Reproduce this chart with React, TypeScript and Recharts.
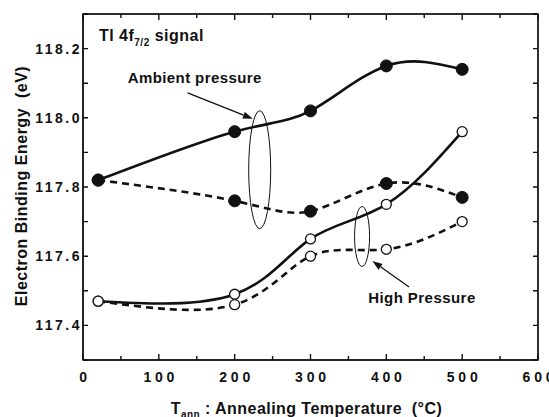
import React from "react";
import {
  LineChart,
  Line,
  XAxis,
  YAxis,
  CartesianGrid,
  ReferenceArea,
  ReferenceDot,
  ReferenceLine,
} from "recharts";

// annealing temperatures (°C)
const temps = [20, 200, 300, 400, 500];
// Tl 4f7/2 binding energies (eV)
const ambientSolid = [117.82, 117.96, 118.02, 118.15, 118.14];
const ambientDashed = [117.82, 117.76, 117.73, 117.81, 117.77];
const highSolid = [117.47, 117.49, 117.65, 117.75, 117.96];
const highDashed = [117.47, 117.46, 117.6, 117.62, 117.7];

const xTicks = [0, 50, 100, 150, 200, 250, 300, 350, 400, 450, 500, 550, 600];
const yTicks = [117.3, 117.4, 117.5, 117.6, 117.7, 117.8, 117.9, 118.0, 118.1, 118.2, 118.3];

const rows = temps.map((t, i) => ({
  t,
  ambSolid: ambientSolid[i],
  ambDash: ambientDashed[i],
  highSolid: highSolid[i],
  highDash: highDashed[i],
}));

const FONT = '"Liberation Sans", Arial, Helvetica, sans-serif';
const INK = "#111";

// layout
const W = 549;
const H = 417;
const MARGIN = { top: 14, right: 11, bottom: 0, left: 0 };
const X_AXIS_H = 57;
const Y_AXIS_W = 83;
const PLOT_W = W - MARGIN.left - MARGIN.right - Y_AXIS_W;
const PLOT_H = H - MARGIN.top - MARGIN.bottom - X_AXIS_H;
const PLOT_LEFT = MARGIN.left + Y_AXIS_W;
const PLOT_TOP = MARGIN.top;
const X_MARGIN = 17;
const Y_MARGIN = 3.5;

const isMajorX = (v: number) => v % 100 === 0;
const isMajorY = (v: number) => Math.round(v * 10) % 2 === 0;

// bottom ticks (inward) and their mirror on the top edge
const BottomTick = (props: any) => {
  const { x, y, payload } = props;
  const v = payload.value;
  const axisY = y - X_MARGIN;
  const topY = axisY - PLOT_H;
  const len = isMajorX(v) ? 6 : 4;
  return (
    <g>
      <path d={`M${x},${axisY}V${axisY - len}M${x},${topY}V${topY + len}`} stroke={INK} strokeWidth={1.4} fill="none" />
      {isMajorX(v) && (
        <text
          x={x + 2}
          y={y}
          dy="0.35em"
          textAnchor="middle"
          fontFamily={FONT}
          fontWeight="bold"
          fontSize={14}
          letterSpacing={3.8}
          fill={INK}
        >
          {v}
        </text>
      )}
    </g>
  );
};

// left ticks (inward) and their mirror on the right edge
const LeftTick = (props: any) => {
  const { x, y, payload } = props;
  const v = payload.value;
  const axisX = x + Y_MARGIN;
  const rightX = axisX + PLOT_W;
  return (
    <g>
      <path d={`M${axisX},${y}H${axisX + 5}M${rightX},${y}H${rightX - 5}`} stroke={INK} strokeWidth={1.4} fill="none" />
      {isMajorY(v) && (
        <text
          x={x + 2.5}
          y={y}
          dy="0.35em"
          textAnchor="end"
          fontFamily={FONT}
          fontWeight="bold"
          fontSize={14}
          letterSpacing={2.5}
          fill={INK}
        >
          {v.toFixed(1)}
        </text>
      )}
    </g>
  );
};

const XLabel = (props: any) => {
  const { viewBox } = props;
  const cx = viewBox.x + viewBox.width / 2 - 4;
  return (
    <text
      x={cx}
      y={414}
      textAnchor="middle"
      fontFamily={FONT}
      fontWeight="bold"
      fontSize={16}
      letterSpacing={0.45}
      fill={INK}
      style={{ whiteSpace: "pre" }}
    >
      T
      <tspan fontSize={10} dy={4}>ann</tspan>
      <tspan dy={-4}>{" : Annealing Temperature  (°C)"}</tspan>
    </text>
  );
};

const YLabel = (props: any) => {
  const { viewBox } = props;
  const cy = viewBox.y + viewBox.height / 2 - 1;
  return (
    <text
      x={27}
      y={cy}
      transform={`rotate(-90, 27, ${cy})`}
      textAnchor="middle"
      fontFamily={FONT}
      fontWeight="bold"
      fontSize={16}
      letterSpacing={0.5}
      fill={INK}
      style={{ whiteSpace: "pre" }}
    >
      {"Electron Binding Energy  (eV)"}
    </text>
  );
};

const Ellipse = (rx: number, ry: number) => (props: any) =>
  <ellipse cx={props.cx} cy={props.cy} rx={rx} ry={ry} fill="none" stroke={INK} strokeWidth={1} />;

const Arrow = (props: any) => {
  const { x1, y1, x2, y2 } = props;
  const ang = Math.atan2(y2 - y1, x2 - x1);
  const L = 10;
  const HW = 3.5;
  const bx = x2 - L * Math.cos(ang);
  const by = y2 - L * Math.sin(ang);
  const px = -Math.sin(ang) * HW;
  const py = Math.cos(ang) * HW;
  return (
    <g>
      <line x1={x1} y1={y1} x2={bx} y2={by} stroke={INK} strokeWidth={1.3} />
      <polygon points={`${x2},${y2} ${bx + px},${by + py} ${bx - px},${by - py}`} fill={INK} />
    </g>
  );
};

const Note = (text: React.ReactNode, size = 15, spacing = 0.4) => (props: any) =>
  (
    <text
      x={props.cx}
      y={props.cy}
      dy="0.35em"
      fontFamily={FONT}
      fontWeight="bold"
      fontSize={size}
      letterSpacing={spacing}
      fill={INK}
    >
      {text}
    </text>
  );

const frame = { stroke: "#222", strokeWidth: 1.5 };

const App = () => {
  return (
    <div style={{ position: "absolute", left: 0, top: 0, background: "#fff" }}>
      <LineChart width={W} height={H} data={rows} margin={MARGIN}>
        {/* plot frame: only the four edges */}
        <CartesianGrid
          stroke="#222"
          strokeWidth={1.5}
          horizontalPoints={[PLOT_TOP, PLOT_TOP + PLOT_H]}
          verticalPoints={[PLOT_LEFT, PLOT_LEFT + PLOT_W]}
        />
        <XAxis
          dataKey="t"
          type="number"
          domain={[0, 600]}
          ticks={xTicks}
          interval={0}
          tick={(p: any) => <BottomTick {...p} />}
          tickLine={false}
          tickSize={0}
          tickMargin={X_MARGIN}
          height={X_AXIS_H}
          axisLine={frame}
          label={{ content: (p: any) => <XLabel {...p} /> }}
        />
        <YAxis
          type="number"
          domain={[117.3, 118.3]}
          ticks={yTicks}
          interval={0}
          tick={(p: any) => <LeftTick {...p} />}
          tickLine={false}
          tickSize={0}
          tickMargin={Y_MARGIN}
          width={Y_AXIS_W}
          axisLine={frame}
          label={{ content: (p: any) => <YLabel {...p} /> }}
        />
        <ReferenceArea
          x1={xTicks[0]}
          x2={xTicks[xTicks.length - 1]}
          y1={yTicks[0]}
          y2={yTicks[yTicks.length - 1]}
          fill="none"
          stroke="#222"
          strokeWidth={1.5}
          ifOverflow="visible"
        />

        <Line
          type="natural"
          dataKey="ambSolid"
          stroke={INK}
          strokeWidth={2.6}
          dot={{ r: 6, fill: INK, stroke: INK, strokeWidth: 1 }}
          isAnimationActive={false}
        />
        <Line
          type="natural"
          dataKey="ambDash"
          stroke={INK}
          strokeWidth={2.6}
          strokeDasharray="7 5"
          dot={{ r: 6, fill: INK, stroke: INK, strokeWidth: 1, strokeDasharray: "0" }}
          isAnimationActive={false}
        />
        <Line
          type="natural"
          dataKey="highSolid"
          stroke={INK}
          strokeWidth={2.6}
          dot={{ r: 5, fill: "#fff", stroke: INK, strokeWidth: 1.3 }}
          isAnimationActive={false}
        />
        <Line
          type="natural"
          dataKey="highDash"
          stroke={INK}
          strokeWidth={2.6}
          strokeDasharray="7 5"
          dot={{ r: 5, fill: "#fff", stroke: INK, strokeWidth: 1.3, strokeDasharray: "0" }}
          isAnimationActive={false}
        />

        <ReferenceDot x={233} y={117.85} shape={Ellipse(11, 59)} />
        <ReferenceDot x={368} y={117.657} shape={Ellipse(7.5, 30)} />
        <ReferenceLine
          segment={[{ x: 138, y: 118.072 }, { x: 224, y: 117.997 }]}
          shape={(p: any) => <Arrow {...p} />}
        />
        <ReferenceLine
          segment={[{ x: 430, y: 117.511 }, { x: 381.6, y: 117.586 }]}
          shape={(p: any) => <Arrow {...p} />}
        />
        <ReferenceDot
          x={21}
          y={118.239}
          shape={Note(
            <>
              Tl 4f<tspan fontSize={10} dy={5}>7/2</tspan>
              <tspan dy={-5}> signal</tspan>
            </>,
            16,
            0.5
          )}
        />
        <ReferenceDot x={59} y={118.115} shape={Note("Ambient pressure")} />
        <ReferenceDot x={376} y={117.479} shape={Note("High Pressure", 15, 0.45)} />
      </LineChart>
    </div>
  );
};

export default App;
